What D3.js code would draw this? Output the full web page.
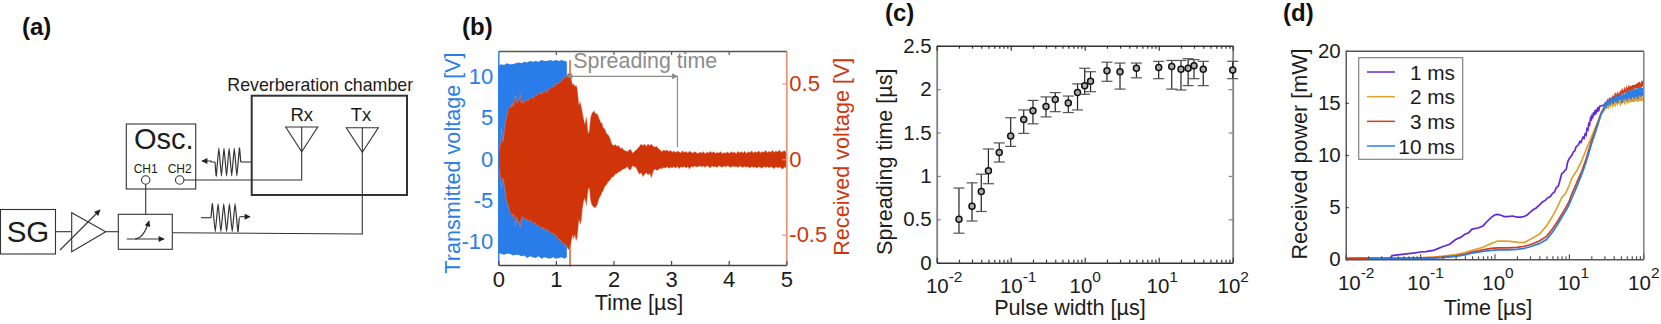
<!DOCTYPE html>
<html lang="en">
<head>
<meta charset="UTF-8">
<title>Reverberation chamber measurements</title>
<script src="https://d3js.org/d3.v7.min.js"></script>
<style>
  html, body { margin: 0; padding: 0; background: #fff; }
  svg { display: block; font-family: "Liberation Sans", Arial, sans-serif; }
</style>
</head>
<body>
<div id="chart"></div>
<script>
// (b) transmitted pulse envelope [V]
const txTime = [0, 0.05, 0.1, 0.15, 0.2, 0.25, 0.3, 0.35, 0.4, 0.45, 0.5, 0.55, 0.6, 0.65, 0.7, 0.75, 0.8, 0.85, 0.9, 0.95, 1, 1.05, 1.1, 1.15, 1.19];
const txUpper = [11.3, 11.5, 11.4, 11.6, 11.5, 11.5, 11.6, 11.7, 11.6, 11.8, 11.7, 11.9, 11.8, 11.9, 11.8, 12, 11.9, 11.9, 12, 11.9, 12, 11.9, 12, 11.9, 11.8];
const txLower = [-11.4, -11.5, -11.6, -11.5, -11.5, -11.7, -11.6, -11.6, -11.8, -11.7, -12, -11.8, -11.9, -12, -11.8, -12.1, -11.9, -12, -12.1, -11.9, -12.1, -12, -11.9, -12.1, -11.9];

// (b) received signal envelope [V]
const rxTime = [
  0, 0.02, 0.04, 0.055, 0.07, 0.09, 0.11, 0.14, 0.17, 0.2,
  0.22, 0.24, 0.26, 0.28, 0.3, 0.32, 0.34, 0.36, 0.38, 0.4,
  0.42, 0.44, 0.46, 0.49, 0.52, 0.55, 0.58, 0.61, 0.64, 0.67,
  0.7, 0.73, 0.76, 0.78, 0.8, 0.83, 0.86, 0.89, 0.92, 0.95,
  0.98, 1.01, 1.04, 1.07, 1.1, 1.13, 1.15, 1.18, 1.2, 1.23,
  1.26, 1.29, 1.31, 1.33, 1.35, 1.37, 1.4, 1.42, 1.44, 1.46,
  1.48, 1.5, 1.53, 1.56, 1.58, 1.6, 1.62, 1.64, 1.66, 1.69,
  1.72, 1.75, 1.78, 1.8, 1.82, 1.85, 1.88, 1.91, 1.94, 1.97,
  2, 2.03, 2.06, 2.09, 2.12, 2.15, 2.18, 2.21, 2.24, 2.27,
  2.3, 2.33, 2.36, 2.39, 2.42, 2.45, 2.48, 2.51, 2.54, 2.57,
  2.6, 2.63, 2.66, 2.69, 2.72, 2.75, 2.78, 2.81, 2.84, 2.87,
  2.9, 2.93, 2.96, 2.99, 3.02, 3.05, 3.08, 3.11, 3.14, 3.17,
  3.2, 3.23, 3.26, 3.29, 3.32, 3.35, 3.38, 3.41, 3.44, 3.47,
  3.5, 3.53, 3.56, 3.59, 3.62, 3.65, 3.68, 3.71, 3.74, 3.77,
  3.8, 3.83, 3.86, 3.89, 3.92, 3.95, 3.98, 4.01, 4.04, 4.07,
  4.1, 4.13, 4.16, 4.19, 4.22, 4.25, 4.28, 4.31, 4.34, 4.37,
  4.4, 4.43, 4.46, 4.49, 4.52, 4.55, 4.58, 4.61, 4.64, 4.67,
  4.7, 4.73, 4.76, 4.79, 4.82, 4.85, 4.88, 4.91, 4.94, 4.97, 5];
const rxUpper = [
  0.04, 0.06, 0.11, 0.2, 0.11, 0.13, 0.21, 0.27, 0.33, 0.35,
  0.34, 0.37, 0.35, 0.39, 0.42, 0.37, 0.38, 0.39, 0.43, 0.37,
  0.38, 0.37, 0.38, 0.39, 0.39, 0.4, 0.41, 0.4, 0.42, 0.42,
  0.44, 0.43, 0.43, 0.45, 0.45, 0.44, 0.45, 0.47, 0.47, 0.48,
  0.48, 0.5, 0.5, 0.51, 0.52, 0.53, 0.54, 0.55, 0.56, 0.57,
  0.54, 0.49, 0.5, 0.48, 0.49, 0.47, 0.36, 0.38, 0.35, 0.31,
  0.27, 0.23, 0.28, 0.17, 0.19, 0.27, 0.3, 0.31, 0.32, 0.3,
  0.3, 0.27, 0.24, 0.24, 0.21, 0.2, 0.17, 0.16, 0.14, 0.1,
  0.09, 0.097, 0.085, 0.09, 0.07, 0.075, 0.06, 0.055, 0.05, 0.06,
  0.066, 0.04, 0.05, 0.06, 0.07, 0.085, 0.1, 0.09, 0.1, 0.085,
  0.1, 0.09, 0.1, 0.085, 0.08, 0.085, 0.07, 0.06, 0.05, 0.06,
  0.055, 0.06, 0.05, 0.058, 0.046, 0.055, 0.044, 0.054, 0.048, 0.042,
  0.056, 0.044, 0.052, 0.04, 0.054, 0.046, 0.04, 0.05, 0.042, 0.038,
  0.048, 0.04, 0.05, 0.036, 0.048, 0.04, 0.052, 0.042, 0.05, 0.038,
  0.046, 0.04, 0.05, 0.036, 0.044, 0.04, 0.048, 0.038, 0.05, 0.042,
  0.048, 0.036, 0.052, 0.042, 0.05, 0.04, 0.054, 0.038, 0.05, 0.044,
  0.056, 0.04, 0.05, 0.044, 0.056, 0.042, 0.05, 0.046, 0.058, 0.044,
  0.052, 0.046, 0.06, 0.044, 0.056, 0.048, 0.062, 0.046, 0.052, 0.056, 0.046];
const rxLower = [
  -0.04, -0.07, -0.12, -0.19, -0.13, -0.13, -0.19, -0.27, -0.3, -0.35,
  -0.36, -0.38, -0.36, -0.38, -0.44, -0.38, -0.42, -0.41, -0.45, -0.39,
  -0.38, -0.4, -0.39, -0.4, -0.41, -0.4, -0.41, -0.43, -0.42, -0.44,
  -0.44, -0.45, -0.46, -0.45, -0.47, -0.46, -0.47, -0.48, -0.49, -0.49,
  -0.5, -0.51, -0.53, -0.53, -0.55, -0.56, -0.56, -0.57, -0.59, -0.6,
  -0.56, -0.5, -0.53, -0.5, -0.54, -0.52, -0.4, -0.43, -0.41, -0.33,
  -0.28, -0.26, -0.31, -0.2, -0.19, -0.27, -0.3, -0.31, -0.32, -0.32,
  -0.3, -0.26, -0.24, -0.22, -0.21, -0.18, -0.17, -0.15, -0.14, -0.12,
  -0.117, -0.1, -0.095, -0.085, -0.08, -0.07, -0.066, -0.06, -0.05, -0.07,
  -0.07, -0.044, -0.05, -0.055, -0.08, -0.1, -0.09, -0.117, -0.1, -0.09,
  -0.105, -0.095, -0.124, -0.08, -0.066, -0.075, -0.07, -0.06, -0.066, -0.055,
  -0.06, -0.05, -0.062, -0.054, -0.058, -0.05, -0.06, -0.048, -0.064, -0.05,
  -0.056, -0.048, -0.06, -0.05, -0.066, -0.048, -0.054, -0.046, -0.052, -0.05,
  -0.044, -0.052, -0.046, -0.056, -0.044, -0.05, -0.058, -0.046, -0.052, -0.048,
  -0.056, -0.044, -0.05, -0.054, -0.046, -0.052, -0.044, -0.05, -0.056, -0.046,
  -0.052, -0.048, -0.056, -0.046, -0.05, -0.056, -0.048, -0.054, -0.05, -0.06,
  -0.048, -0.056, -0.052, -0.06, -0.05, -0.054, -0.062, -0.048, -0.056, -0.05,
  -0.058, -0.05, -0.056, -0.064, -0.05, -0.058, -0.052, -0.06, -0.066, -0.052, -0.06];
const rxSpikeTime = [1.245];
const rxSpikeRange = [0.655, -0.71];
const spreadStart = 1.19;
const spreadEnd = 3.11;
const spreadFoot = 0.08;
const spreadLevel = 10.03;

// (c) spreading time against pulse width
const pulseWidth = [0.02, 0.03, 0.04, 0.05, 0.07, 0.1, 0.15, 0.2, 0.3, 0.4, 0.6, 0.8, 1, 1.2, 2, 3, 5, 10, 15, 20, 25, 30, 40, 100];
const spreadMean = [0.5, 0.65, 0.82, 1.06, 1.27, 1.46, 1.65, 1.75, 1.8, 1.88, 1.84, 1.96, 2.04, 2.09, 2.21, 2.2, 2.24, 2.25, 2.26, 2.23, 2.24, 2.27, 2.23, 2.22];
const spreadHigh = [0.86, 0.92, 1.02, 1.31, 1.38, 1.67, 1.76, 1.87, 1.91, 1.96, 1.92, 2.06, 2.24, 2.2, 2.31, 2.3, 2.3, 2.32, 2.33, 2.33, 2.35, 2.34, 2.32, 2.32];
const spreadLow = [0.34, 0.48, 0.59, 0.91, 1.16, 1.34, 1.49, 1.6, 1.68, 1.74, 1.73, 1.76, 1.94, 1.97, 2.09, 2, 2.13, 2.12, 2, 1.99, 2.04, 2.12, 2.04, 2.12];

// (d) received power against time
const powerTail = [30, 31, 32, 33, 34, 35, 36, 38, 39, 41, 42, 44, 45, 47, 49, 50, 52, 54, 56, 58, 60, 62, 64, 66, 68, 70, 72, 74, 76, 78, 80, 82, 84, 86, 88, 90, 92, 94, 96, 98, 100];
const powerTime = [0.01, 0.02, 0.03, 0.04, 0.042, 0.05, 0.07, 0.1, 0.15, 0.2, 0.3, 0.4, 0.5, 0.7, 0.9, 1.1, 1.5, 2, 2.5, 3, 4, 5, 6, 7, 8, 9, 10, 11, 12, 13, 15, 17, 20, 22, 25, 27].concat(powerTail);
// the 1 ms trace is the rough one, so it gets its own finer time base
const power1msTime = [
  0.01, 0.02, 0.03, 0.04, 0.042, 0.05, 0.07, 0.085, 0.1, 0.12,
  0.15, 0.17, 0.2, 0.25, 0.3, 0.35, 0.4, 0.45, 0.5, 0.6,
  0.7, 0.8, 0.9, 1, 1.1, 1.2, 1.35, 1.5, 1.75, 2,
  2.25, 2.5, 2.75, 3, 3.3, 3.6, 4, 4.4, 4.8, 5.2,
  5.6, 6, 6.4, 6.8, 7.2, 7.6, 8, 8.4, 8.8, 9.2,
  9.6, 10, 10.5, 11, 11.5, 12, 12.5, 13, 13.5, 14,
  14.5, 15, 15.5, 16, 16.5, 17, 17.5, 18, 18.5, 19,
  19.5, 20, 20.5, 21, 21.5, 22, 22.5, 23, 23.5, 24,
  24.5, 25, 26, 27].concat(powerTail);
const power1ms = [
  0.05, 0.06, 0.08, 0.12, 0.35, 0.42, 0.55, 0.62, 0.7, 0.74,
  0.85, 1, 1.2, 1.45, 1.9, 2.1, 2.4, 2.55, 2.9, 3,
  3.2, 3.65, 4, 4.25, 4.3, 4.25, 4.1, 4.1, 4.15, 4.05,
  4.05, 4.1, 4.25, 4.5, 4.75, 4.9, 5.2, 5.5, 5.65, 5.9,
  6, 6.3, 6.45, 6.9, 7, 7.6, 8.2, 8.3, 8.5, 8.6,
  9.3, 9.6, 9.8, 10, 10.3, 10.4, 10.8, 10.9, 11, 11.3,
  11.2, 11.5, 11.7, 11.6, 12, 11.9, 12.5, 12.4, 13, 12.9,
  13.5, 13.3, 13.9, 13.7, 14.1, 13.8, 14.3, 13.9, 14.4, 14.1,
  14.6, 14.2, 14.7, 14.7,
  14.8, 15, 14.9, 15.2, 15, 15.3, 15, 15.4, 15.1, 15.5, 15.2, 15.5, 15.2, 15.6, 15.3, 15.7, 15.3, 15.7, 15.4, 15.8, 15.4, 15.8, 15.5, 15.9, 15.5, 15.9, 15.5, 16, 15.6, 16, 15.6, 16, 15.6, 16, 15.7, 16.1, 15.7, 16.1, 15.7, 16.1, 15.8];
const power2ms = [0.05, 0.05, 0.05, 0.06, 0.06, 0.08, 0.1, 0.15, 0.22, 0.3, 0.45, 0.65, 0.85, 1.15, 1.5, 1.75, 1.75, 1.65, 1.6, 1.9, 2.4, 3.2, 4.1, 5, 5.9, 6.3, 7, 7.8, 8.2, 8.6, 9.5, 10.5, 11.7, 12.4, 13.3, 13.9,
  14.3, 14.6, 14.5, 14.8, 14.6, 14.9, 14.7, 15, 14.7, 15.1, 14.8, 15.2, 14.9, 15.2, 14.9, 15.3, 15, 15.3, 15, 15.4, 15.1, 15.4, 15, 15.5, 15.1, 15.5, 15.1, 15.6, 15.1, 15.6, 15.2, 15.6, 15.1, 15.7, 15.2, 15.7, 15.2, 15.7, 15.2, 15.6, 15.3];
const power3ms = [0.12, 0.12, 0.1, 0.1, 0.1, 0.1, 0.12, 0.14, 0.17, 0.2, 0.33, 0.5, 0.7, 0.9, 1.05, 1.1, 1.1, 1.15, 1.25, 1.4, 1.75, 2.2, 2.9, 3.6, 4.3, 4.9, 5.5, 6.3, 6.9, 7.5, 8.5, 9.6, 11.3, 12.1, 13.3, 14,
  14.6, 14.9, 15, 15, 15.2, 15.1, 15.4, 15.3, 15.6, 15.4, 15.8, 15.5, 15.9, 15.7, 16, 15.8, 16.2, 15.9, 16.3, 16, 16.4, 16.1, 16.5, 16.2, 16.6, 16.2, 16.7, 16.3, 16.7, 16.4, 16.8, 16.4, 16.9, 16.4, 17, 16.5, 16.9, 16.5, 17.1, 16.6, 16.9];
const power10ms = [null, 0.08, 0.08, 0.08, 0.08, 0.08, 0.09, 0.1, 0.12, 0.16, 0.27, 0.42, 0.6, 0.75, 0.85, 0.9, 0.9, 0.95, 1.05, 1.2, 1.5, 1.9, 2.6, 3.3, 4, 4.6, 5.2, 5.9, 6.5, 7.1, 8.2, 9.3, 11, 11.9, 13.1, 13.9,
  14.5, 14.9, 14.7, 15.1, 14.8, 15.3, 15, 15.4, 14.9, 15.5, 15.1, 15.6, 15, 15.7, 15.3, 15.8, 15, 15.8, 15.4, 16, 15.2, 16.1, 15.5, 16.2, 15.3, 16.2, 15.6, 16.3, 15.4, 16.3, 15.7, 16.4, 15.4, 16.4, 15.8, 16.5, 15.6, 16.5, 15.8, 16.4, 16.1];
const powerNames = ["1 ms", "2 ms", "3 ms", "10 ms"];
const powerTimes = [power1msTime, powerTime, powerTime, powerTime];
const powerSeries = [power1ms, power2ms, power3ms, power10ms];
const powerColors = ["#6428dc", "#e2a12f", "#d0401a", "#2a7fe6"];

const blue = "#2a7de8";
const red = "#d0350a";
const salmon = "#e8957f";
const grey = "#8c8c8c";
const ink = "#1c1c1c";
const tickFont = 20.5;
const labelFont = 21.6;

const decades = [0.01, 0.1, 1, 10, 100];
const minorSteps = [2, 3, 4, 5, 6, 7, 8, 9];
const minorTicks = decades.slice(0, 4).flatMap(d => minorSteps.map(m => d * m));

const svg = d3.select("#chart").append("svg")
  .attr("width", 1661)
  .attr("height", 324);

function addText(parent, str, x, y, size, opts) {
  opts = opts || {};
  const t = parent.append("text")
    .attr("x", x).attr("y", y)
    .attr("font-size", size)
    .attr("fill", opts.fill || ink)
    .attr("stroke", "none")
    .attr("text-anchor", opts.anchor || "start")
    .attr("font-weight", opts.weight || "normal")
    .text(str);
  if (opts.rotate) t.attr("transform", "rotate(-90 " + x + " " + y + ")");
  return t;
}

function paintAxis(g, color, width, size) {
  g.select(".domain").attr("stroke", color).attr("stroke-width", width || 1.5);
  g.selectAll(".tick line").attr("stroke", color).attr("stroke-width", 1.2);
  g.selectAll(".tick text").attr("font-size", size || tickFont).attr("fill", color);
  g.attr("font-family", null).attr("font-size", null);
}

// log axis with "10^n" labels, inward ticks on both edges
function logAxis(g, x, top, bottom, color, padding, supRise, shifts, topTicks) {
  const below = g.append("g").attr("transform", "translate(0," + bottom + ")")
    .call(d3.axisBottom(x).tickValues(decades).tickSizeInner(-5).tickSizeOuter(0).tickPadding(padding));
  paintAxis(below, color);
  below.selectAll(".tick text").each(function (d, i) {
    const el = d3.select(this).text(null).attr("dx", shifts[i]);
    el.append("tspan").text("10");
    el.append("tspan").attr("dy", -supRise).attr("font-size", 15.5).text(Math.round(Math.log10(d)));
  });
  const belowMinor = g.append("g").attr("transform", "translate(0," + bottom + ")")
    .call(d3.axisBottom(x).tickValues(minorTicks).tickSizeInner(-3).tickSizeOuter(0).tickFormat(""));
  paintAxis(belowMinor, color);
  belowMinor.select(".domain").remove();
  const above = g.append("g").attr("transform", "translate(0," + top + ")")
    .call(d3.axisTop(x).tickValues(topTicks ? decades : []).tickSizeInner(-5).tickSizeOuter(0).tickFormat(""));
  paintAxis(above, color);
  if (topTicks) {
    const aboveMinor = g.append("g").attr("transform", "translate(0," + top + ")")
      .call(d3.axisTop(x).tickValues(minorTicks).tickSizeInner(-3).tickSizeOuter(0).tickFormat(""));
    paintAxis(aboveMinor, color);
    aboveMinor.select(".domain").remove();
  }
}

// ---------- (a) schematic ----------
const a = svg.append("g").attr("fill", "none").attr("stroke", "#333").attr("stroke-width", 1.1);

const defs = svg.append("defs");
function arrowMarker(id, color) {
  defs.append("marker").attr("id", id)
    .attr("viewBox", "0 0 10 10").attr("refX", 9).attr("refY", 5)
    .attr("markerWidth", 8).attr("markerHeight", 6).attr("markerUnits", "userSpaceOnUse")
    .attr("orient", "auto-start-reverse")
    .append("path").attr("d", "M0,0L10,5L0,10Z").attr("fill", color).attr("stroke", "none");
}
arrowMarker("head", "#222");
arrowMarker("headGrey", grey);

function box(x, y, w, h, sw) {
  a.append("rect").attr("x", x).attr("y", y).attr("width", w).attr("height", h)
    .attr("stroke-width", sw || 1.1);
}
function wire(points, marker) {
  const p = a.append("path").attr("d", d3.line()(points));
  if (marker) p.attr("marker-end", "url(#head)");
  return p;
}
// wave packet: alternating crests between two x positions
function packet(x0, x1, mid, amp, cycles) {
  const pts = [[x0, mid]];
  const n = cycles * 2;
  for (let i = 0; i < n; i++) {
    pts.push([x0 + (x1 - x0) * (i + 0.5) / n, mid + (i % 2 ? amp : -amp)]);
  }
  pts.push([x1, mid]);
  a.append("path").attr("stroke-width", 1.2)
    .attr("d", d3.line().curve(d3.curveCardinal.tension(0.6))(pts));
}

box(0.5, 209.5, 55, 44.5);
box(126.3, 124, 69.4, 65);
box(118.3, 214.3, 54, 35);
box(251.7, 95.7, 155.3, 99.3, 2);

wire([[55.5, 231.7], [71.7, 231.7]]);
a.append("path").attr("d", "M71.7,212.7L71.7,251.7L105.7,231.7Z");
wire([[60, 250], [100, 210]], true);
wire([[105.7, 231.7], [118.3, 231.7]]);
wire([[126.7, 239], [164, 239]], true);
a.append("path").attr("d", "M135,239Q144,238 149,221").attr("marker-end", "url(#head)");
wire([[145.7, 214.3], [145.7, 184.3]]);
a.append("circle").attr("cx", 145.7).attr("cy", 180).attr("r", 4.2);
a.append("circle").attr("cx", 179.7).attr("cy", 180).attr("r", 4.2);
wire([[184, 180], [301.7, 180], [301.7, 127]]);
a.append("path").attr("d", "M285.7,127H317.7L301.7,151.7Z");
a.append("path").attr("d", "M346.3,127.7H378.3L362.3,152.3Z");
wire([[362.3, 127.7], [362.3, 234], [172.3, 232.7]]);

wire([[251.7, 162], [240.7, 162]]);
packet(240.7, 215, 162, 14, 5);
wire([[215, 162], [211, 162], [211, 161], [202, 161]], true);
wire([[201, 217.7], [211, 217.7]]);
packet(211, 239.3, 217.7, 14, 5);
wire([[239.3, 216.7], [250, 216.7]], true);

addText(svg, "(a)", 22, 35, 24, { weight: "bold", fill: "#111" });
addText(svg, "SG", 28, 241.5, 29.5, { anchor: "middle" });
addText(svg, "Osc.", 134, 149.3, 29);
addText(svg, "CH1", 145.7, 173.3, 12, { anchor: "middle" });
addText(svg, "CH2", 179.7, 173.3, 12, { anchor: "middle" });
addText(svg, "Reverberation chamber", 227.3, 90.7, 17.8);
addText(svg, "Rx", 301.7, 120.7, 18.5, { anchor: "middle" });
addText(svg, "Tx", 361, 120.7, 18.5, { anchor: "middle" });

// ---------- (b) waveforms ----------
const bx = d3.scaleLinear().domain([0, 5]).range([498.3, 786.3]);
const byLeft = d3.scaleLinear().domain([-12.85, 13.1]).range([265, 51]);
const byRight = d3.scaleLinear().domain([-0.7, 0.715]).range([265, 51]);
const b = svg.append("g");

b.append("path")
  .attr("fill", blue)
  .attr("d", d3.area()
    .x((d, i) => bx(txTime[i]))
    .y0((d, i) => byLeft(txLower[i]))
    .y1((d, i) => byLeft(txUpper[i]))(txTime));
b.selectAll(".spike").data(rxSpikeTime).join("line")
  .attr("class", "spike")
  .attr("x1", d => bx(d)).attr("x2", d => bx(d))
  .attr("y1", byRight(rxSpikeRange[0])).attr("y2", byRight(rxSpikeRange[1]))
  .attr("stroke", "#dd6a4a").attr("stroke-width", 1.6);
b.append("path")
  .attr("fill", red)
  .attr("stroke", salmon)
  .attr("stroke-width", 0.4)
  .attr("d", d3.area()
    .x((d, i) => bx(rxTime[i]))
    .y0((d, i) => byRight(rxLower[i]))
    .y1((d, i) => byRight(rxUpper[i]))(rxTime));

const bAxisLeft = b.append("g").attr("transform", "translate(" + bx(0) + ",0)")
  .call(d3.axisLeft(byLeft).tickValues([-10, -5, 0, 5, 10]).tickFormat(String).tickSizeInner(-4).tickSizeOuter(0).tickPadding(5));
paintAxis(bAxisLeft, blue, 1.4, 22);
bAxisLeft.selectAll(".tick line").remove();

const bAxisRight = b.append("g").attr("transform", "translate(" + bx(5) + ",0)")
  .call(d3.axisRight(byRight).tickValues([-0.5, 0, 0.5]).tickFormat(String).tickSizeInner(-4).tickSizeOuter(0).tickPadding(3));
paintAxis(bAxisRight, salmon, 1.8, 22);
bAxisRight.selectAll(".tick text").attr("fill", red);

const bAxisBottom = b.append("g").attr("transform", "translate(0,265)")
  .call(d3.axisBottom(bx).tickValues([0, 1, 2, 3, 4, 5]).tickFormat(String).tickSizeInner(-4).tickSizeOuter(0).tickPadding(6));
paintAxis(bAxisBottom, "#444", 1.5, 22);
bAxisBottom.selectAll(".tick text").attr("fill", ink);
const bAxisTop = b.append("g").attr("transform", "translate(0,51)")
  .call(d3.axisTop(bx).tickValues([1, 2, 3, 4]).tickSizeInner(-4).tickSizeOuter(0).tickFormat(""));
paintAxis(bAxisTop, "#555");

// spreading time annotation
const yArrow = byLeft(spreadLevel);
b.append("line").attr("x1", bx(spreadEnd)).attr("x2", bx(spreadEnd))
  .attr("y1", yArrow).attr("y2", byRight(spreadFoot))
  .attr("stroke", grey).attr("stroke-width", 1.2);
b.append("line").attr("x1", bx(spreadStart)).attr("x2", bx(spreadEnd))
  .attr("y1", yArrow).attr("y2", yArrow)
  .attr("stroke", grey).attr("stroke-width", 1.2)
  .attr("marker-start", "url(#headGrey)").attr("marker-end", "url(#headGrey)");
addText(b, "Spreading time", 573.3, 68.3, 21.4, { fill: grey });

addText(svg, "(b)", 462, 35, 24, { weight: "bold", fill: "#111" });
addText(b, "Transmitted voltage [V]", 460, 163, labelFont, { anchor: "middle", fill: blue, rotate: true });
addText(b, "Received voltage [V]", 849.3, 156.7, labelFont, { anchor: "middle", fill: red, rotate: true });
addText(b, "Time [µs]", 639, 310, labelFont, { anchor: "middle" });

// ---------- (c) spreading time ----------
const cx = d3.scaleLog().domain([0.01, 100]).range([936.7, 1232.7]);
const cy = d3.scaleLinear().domain([0, 2.5]).range([262.7, 45.7]);
const c = svg.append("g");

const cAxisLeft = c.append("g").attr("transform", "translate(" + cx(0.01) + ",0)")
  .call(d3.axisLeft(cy).tickValues([0, 0.5, 1, 1.5, 2, 2.5]).tickFormat(String).tickSizeInner(-4).tickSizeOuter(0).tickPadding(5));
paintAxis(cAxisLeft, "#808080", 1.8);
cAxisLeft.selectAll(".tick text").attr("fill", ink);
const cAxisRight = c.append("g").attr("transform", "translate(" + cx(100) + ",0)")
  .call(d3.axisRight(cy).tickValues([0.5, 1, 1.5, 2]).tickSizeInner(-4).tickSizeOuter(0).tickFormat(""));
paintAxis(cAxisRight, "#808080", 1.8);
logAxis(c, cx, cy(2.5), cy(0), "#333", 15.5, 11, [7, 7, 0, 3, 0], true);
c.selectAll(".tick text").attr("fill", ink);

const capHalf = 5.5;
const errs = c.selectAll(".err").data(pulseWidth).join("g").attr("class", "err");
errs.append("line")
  .attr("x1", d => cx(d)).attr("x2", d => cx(d))
  .attr("y1", (d, i) => cy(spreadHigh[i])).attr("y2", (d, i) => cy(spreadLow[i]))
  .attr("stroke", "#222").attr("stroke-width", 1.2);
errs.append("line")
  .attr("x1", d => cx(d) - capHalf).attr("x2", d => cx(d) + capHalf)
  .attr("y1", (d, i) => cy(spreadHigh[i])).attr("y2", (d, i) => cy(spreadHigh[i]))
  .attr("stroke", "#555").attr("stroke-width", 1.2);
errs.append("line")
  .attr("x1", d => cx(d) - capHalf).attr("x2", d => cx(d) + capHalf)
  .attr("y1", (d, i) => cy(spreadLow[i])).attr("y2", (d, i) => cy(spreadLow[i]))
  .attr("stroke", "#555").attr("stroke-width", 1.2);
errs.append("circle")
  .attr("cx", d => cx(d)).attr("cy", (d, i) => cy(spreadMean[i])).attr("r", 3)
  .attr("fill", "#b0b0b0").attr("stroke", "#111").attr("stroke-width", 1.5);

addText(svg, "(c)", 885, 21, 24, { weight: "bold", fill: "#111" });
addText(c, "Spreading time [µs]", 891.7, 161.7, labelFont, { anchor: "middle", rotate: true });
addText(c, "Pulse width [µs]", 1070, 315, labelFont, { anchor: "middle" });

// ---------- (d) received power ----------
const dx = d3.scaleLog().domain([0.01, 100]).range([1345.7, 1643.3]);
const dy = d3.scaleLinear().domain([0, 20]).range([259.3, 50.7]);
const dPanel = svg.append("g");

powerSeries.forEach((vals, k) => {
  dPanel.append("path")
    .attr("fill", "none")
    .attr("stroke", powerColors[k])
    .attr("stroke-width", 1.7)
    .attr("d", d3.line()
      .defined((d, i) => vals[i] !== null)
      .x(d => dx(d))
      .y((d, i) => dy(vals[i]))(powerTimes[k]));
});

const dAxisLeft = dPanel.append("g").attr("transform", "translate(" + dx(0.01) + ",0)")
  .call(d3.axisLeft(dy).tickValues([0, 5, 10, 15, 20]).tickFormat(String).tickSizeInner(-3).tickSizeOuter(0).tickPadding(5));
paintAxis(dAxisLeft, "#444", 1.3);
dAxisLeft.selectAll(".tick text").attr("fill", ink);
const dAxisRight = dPanel.append("g").attr("transform", "translate(" + dx(100) + ",0)")
  .call(d3.axisRight(dy).tickValues([]).tickSizeOuter(0));
paintAxis(dAxisRight, "#888", 1.6);
logAxis(dPanel, dx, dy(20), dy(0), "#555", 16, 11.5, [10, 5, 3, 4, 0], false);
dPanel.selectAll(".tick text").attr("fill", ink);

// legend
const legend = dPanel.append("g");
legend.append("rect")
  .attr("x", 1358.7).attr("y", 57.7).attr("width", 104).attr("height", 101.6)
  .attr("fill", "#fff").attr("stroke", "#808080").attr("stroke-width", 1.2);
const legendY = d3.scalePoint().domain(powerNames).range([72, 146]);
powerNames.forEach((name, k) => {
  legend.append("line")
    .attr("x1", 1367).attr("x2", 1395)
    .attr("y1", legendY(name)).attr("y2", legendY(name))
    .attr("stroke", powerColors[k]).attr("stroke-width", 1.5);
  addText(legend, name, 1455, legendY(name) + 7.5, 20.8, { anchor: "end" });
});

addText(svg, "(d)", 1283, 21, 24, { weight: "bold", fill: "#111" });
addText(dPanel, "Received power [mW]", 1306.7, 154, labelFont, { anchor: "middle", rotate: true });
addText(dPanel, "Time [µs]", 1488, 315, labelFont, { anchor: "middle" });
</script>
</body>
</html>
